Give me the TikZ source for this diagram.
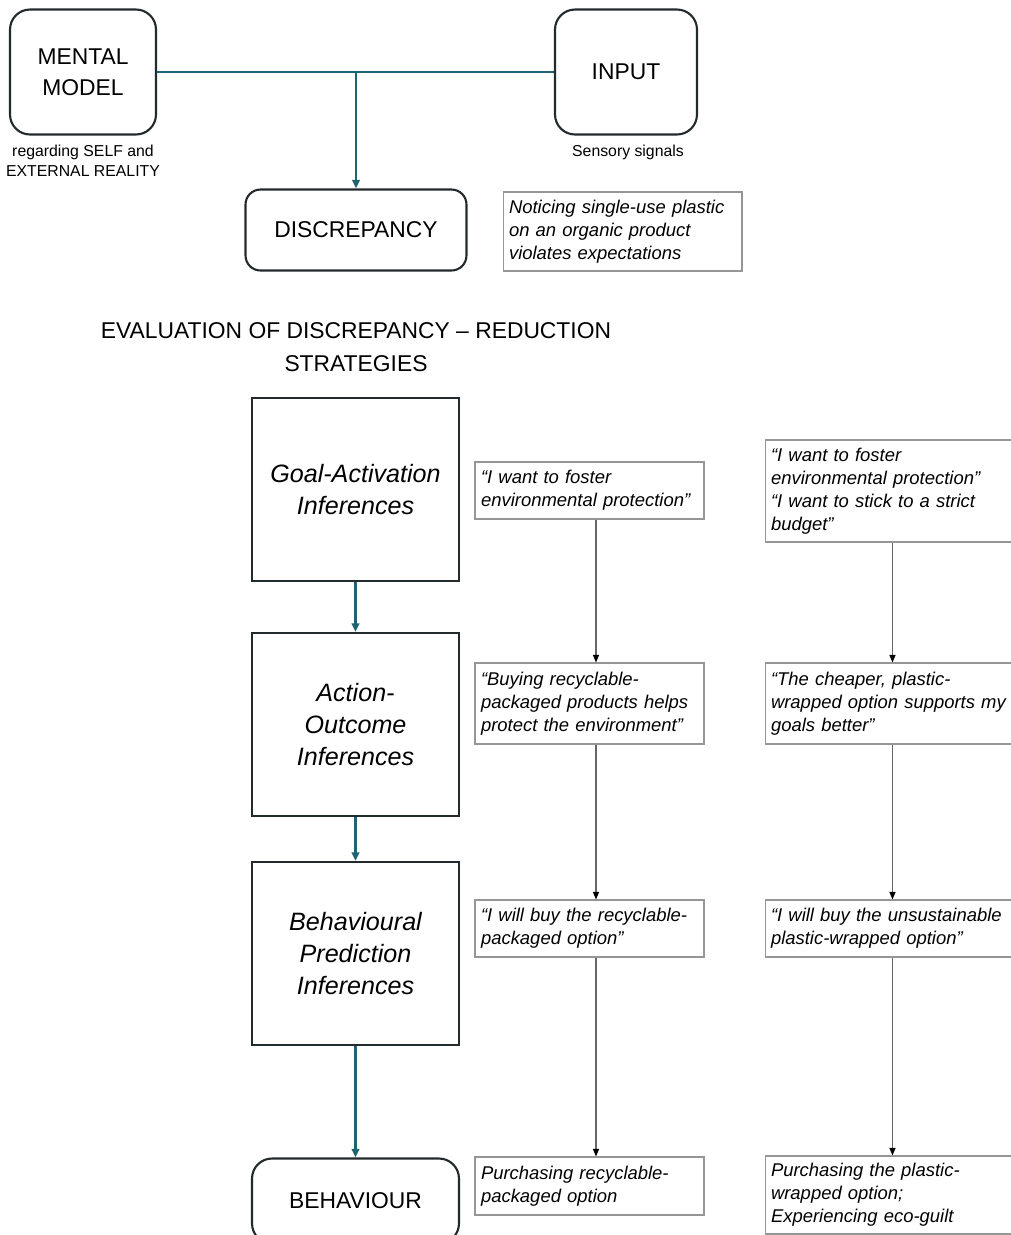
\documentclass[tikz,border=0pt]{standalone}
\usepackage{fontspec}
\setmainfont{Liberation Sans}
\usepackage{xcolor}
\usepackage{tikz}
\usetikzlibrary{arrows.meta}
\definecolor{tealline}{RGB}{31,98,112}
\definecolor{boxline}{RGB}{35,42,46}
\definecolor{noteline}{RGB}{150,150,150}

\begin{document}
\begin{tikzpicture}[x=0.02cm, y=-0.02cm,
        mainbox/.style={draw=boxline, line width=1.2pt, rounded corners=0.4cm, align=center, font=\fontsize{13}{17.5}\selectfont},
        stagebox/.style={draw=boxline, line width=1.2pt, minimum width=4.14cm, minimum height=3.66cm, align=center, font=\fontsize{14.3}{18}\selectfont\itshape},
        notebox/.style={draw=noteline, line width=0.6pt, inner xsep=0.12cm, align=left, font=\fontsize{10.5}{13}\selectfont\itshape},
        caption/.style={align=center, font=\fontsize{9}{11.3}\selectfont},
        flow/.style={tealline, line width=1.4pt, -{Triangle[length=0.17cm, width=0.15cm]}},
        link/.style={black!60, line width=0.6pt, -{Triangle[length=0.15cm, width=0.12cm, color=black]}}]
        \useasboundingbox (0,0) rectangle (1011,1235);

        \node[mainbox, minimum width=2.92cm, minimum height=2.5cm] (mental) at (83,72) {MENTAL\\MODEL};
        \node[caption] (mentalnote) at (83,161) {regarding SELF and\\EXTERNAL REALITY};
        \node[mainbox, minimum width=2.84cm, minimum height=2.5cm] (input) at (626,72) {INPUT};
        \node[caption] (inputnote) at (628,152) {Sensory signals};
        \coordinate (split) at (356,72);

        \node[mainbox, rounded corners=0.3cm, minimum width=4.42cm, minimum height=1.62cm] (discrepancy) at (356,230) {DISCREPANCY};
        \node[notebox, text width=4.54cm, minimum height=1.58cm] (notice) at (622.5,231.5) {Noticing single-use plastic\\on an organic product\\violates expectations};

        \node[align=center, font=\fontsize{13}{18.7}\selectfont] (title) at (356,347) {EVALUATION OF DISCREPANCY -- REDUCTION\\STRATEGIES};

        \node[stagebox] (goal) at (355.5,489.5) {Goal-Activation\\Inferences};
        \node[stagebox] (action) at (355.5,724.5) {Action-\\Outcome\\Inferences};
        \node[stagebox] (predict) at (355.5,953.5) {Behavioural\\Prediction\\Inferences};
        \node[mainbox, minimum width=4.14cm, minimum height=1.7cm] (behaviour) at (355.5,1201) {BEHAVIOUR};

        % first line of reasoning
        \node[notebox, text width=4.34cm, minimum height=1.14cm] (g1) at (589.5,490.5) {“I want to foster\\environmental protection”};
        \node[notebox, text width=4.34cm, minimum height=1.62cm] (a1) at (589.5,703.5) {“Buying recyclable-\\packaged products helps\\protect the environment”};
        \node[notebox, text width=4.34cm, minimum height=1.14cm] (b1) at (589.5,928.5) {“I will buy the recyclable-\\packaged option”};
        \node[notebox, text width=4.34cm, minimum height=1.16cm] (p1) at (589.5,1186) {Purchasing recyclable-\\packaged option};

        % second line of reasoning
        \node[notebox, text width=4.86cm, minimum height=2.04cm] (g2) at (892.5,491) {“I want to foster\\environmental protection”\\“I want to stick to a strict\\budget”};
        \node[notebox, text width=4.86cm, minimum height=1.62cm] (a2) at (892.5,703.5) {“The cheaper, plastic-\\wrapped option supports my\\goals better”};
        \node[notebox, text width=4.86cm, minimum height=1.14cm] (b2) at (892.5,928.5) {“I will buy the unsustainable\\plastic-wrapped option”};
        \node[notebox, text width=4.86cm, minimum height=1.56cm] (p2) at (892.5,1195) {Purchasing the plastic-\\wrapped option;\\Experiencing eco-guilt};

        \draw[tealline, line width=1.2pt] (mental) -- (input);
        \draw[flow] (split) -- (discrepancy);
        \draw[flow] (goal) -- (action);
        \draw[flow] (action) -- (predict);
        \draw[flow] (predict) -- (behaviour);

        \draw[link] ([xshift=0.13cm]g1.south) -- ([xshift=0.13cm]a1.north);
        \draw[link] ([xshift=0.13cm]a1.south) -- ([xshift=0.13cm]b1.north);
        \draw[link] ([xshift=0.13cm]b1.south) -- ([xshift=0.13cm]p1.north);
        \draw[link] (g2) -- (a2);
        \draw[link] (a2) -- (b2);
        \draw[link] (b2) -- (p2);
    \end{tikzpicture}
\end{document}
